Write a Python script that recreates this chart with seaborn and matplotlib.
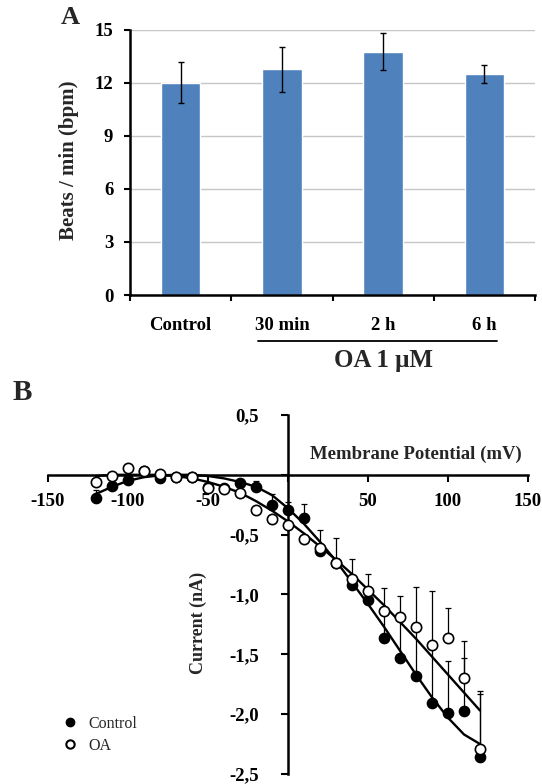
import numpy as np
import pandas as pd
import matplotlib
matplotlib.use("Agg")
import matplotlib.pyplot as plt
from matplotlib.lines import Line2D
import seaborn as sns

# ==========================================
# DATA
# ==========================================
# Panel A - beating rate
groups = ["Control", "30 min", "2 h", "6 h"]
beats = [12.0, 12.75, 13.75, 12.5]
beats_err = [1.15, 1.28, 1.05, 0.5]

# Panel B - I/V relationship
voltage = list(range(-120, 121, 10))
ctrl_current = [-0.19, -0.09, -0.04, 0.03, -0.025, -0.02, -0.02, -0.10, -0.11, -0.07,
                -0.10, -0.25, -0.29, -0.36, -0.64, -0.74, -0.92, -1.05, -1.36, -1.53,
                -1.68, -1.91, -1.99, -1.97, -2.36]
ctrl_err = [0.06, 0, 0, 0, 0, 0, 0, 0, 0, 0,
            0.05, 0.09, 0.06, 0.12, 0.18, 0.21, 0.22, 0.22, 0.41, 0.52,
            0.74, 0.94, 0.43, 0.44, 0.53]
oa_current = [-0.06, -0.01, 0.06, 0.03, 0.01, -0.02, -0.02, -0.11, -0.12, -0.15,
              -0.29, -0.37, -0.42, -0.54, -0.61, -0.74, -0.87, -0.97, -1.14, -1.19,
              -1.27, -1.42, -1.36, -1.70, -2.29]
oa_err = [0, 0, 0, 0, 0, 0, 0, 0, 0, 0,
          0, 0, 0, 0, 0, 0, 0, 0, 0, 0,
          0, 0, 0.25, 0.31, 0.48]
# fitted curves
ctrl_fit = [-0.16, -0.10, -0.05, -0.02, -0.005, 0.0, 0.0, -0.01, -0.03, -0.06,
            -0.10, -0.17, -0.28, -0.41, -0.56, -0.72, -0.90, -1.08, -1.27, -1.47,
            -1.67, -1.86, -2.03, -2.17, -2.25]
oa_fit = [-0.01, 0.0, 0.0, 0.0, 0.0, -0.01, -0.03, -0.06, -0.10, -0.15,
          -0.22, -0.30, -0.39, -0.49, -0.60, -0.71, -0.83, -0.96, -1.09, -1.23,
          -1.37, -1.52, -1.67, -1.82, -1.97]

# ==========================================
# STYLE
# ==========================================
sns.set_theme(style="white")
plt.rcParams["font.family"] = ["Liberation Serif", "DejaVu Serif"]
plt.rcParams["font.weight"] = "bold"
plt.rcParams["axes.labelweight"] = "bold"

fig = plt.figure(figsize=(5.42, 7.84), dpi=100)
ax1 = fig.add_axes([0.2399, 0.6237, 0.7472, 0.3386])
ax2 = fig.add_axes([0.0886, 0.0128, 0.8856, 0.4579])

# ------------------------------------------
# PANEL A
# ------------------------------------------
df_a = pd.DataFrame({"group": groups, "bpm": beats})
sns.barplot(data=df_a, x="group", y="bpm", color="#4f81bd", saturation=1,
            width=0.39, errorbar=None, ax=ax1, zorder=2)
ax1.errorbar(range(len(groups)), beats, yerr=beats_err, fmt="none",
             ecolor="black", elinewidth=1, capsize=2.2, capthick=1, zorder=3)
ax1.set_xlim(-0.5, 3.5)
ax1.set_ylim(0, 15)
ax1.set_yticks(range(0, 16, 3))
ax1.yaxis.grid(True, color="#c6c6c6", lw=1)
ax1.set_axisbelow(True)
ax1.spines[["top", "right"]].set_visible(False)
for s in ["left", "bottom"]:
    ax1.spines[s].set_linewidth(1.8)
    ax1.spines[s].set_color("black")
ax1.tick_params(axis="y", direction="out", left=True, length=4, width=1.5,
                pad=8, labelsize=13.5, colors="black")
ax1.tick_params(axis="x", which="major", length=0, pad=16, labelsize=13.5,
                colors="black")
ax1.set_xticks(np.arange(-0.5, 4, 1), minor=True)
ax1.tick_params(axis="x", which="minor", direction="out", bottom=True,
                length=4, width=1.5, color="black")
ax1.set_xlabel("")
ax1.set_ylabel("")
fig.text(69 / 542, 1 - 160 / 784, "Beats / min (bpm)", rotation=90,
         ha="center", va="center", fontsize=15)

xt = ax1.get_xaxis_transform()
ax1.plot([0.764, 3.125], [-0.172, -0.172], transform=xt, clip_on=False,
         color="black", lw=1.3)
ax1.text(2.0, -0.245, "OA 1 μM", transform=xt, ha="center", va="center",
         fontsize=18)
fig.text(70 / 542, 1 - 18 / 784, "A", ha="center", va="center", fontsize=19)

# ------------------------------------------
# PANEL B
# ------------------------------------------
v = np.array(voltage)
for cur, err in [(ctrl_current, ctrl_err), (oa_current, oa_err)]:
    cur = np.array(cur)
    err = np.array(err)
    m = err > 0
    ax2.errorbar(v[m], cur[m], yerr=[np.zeros(m.sum()), err[m]], fmt="none",
                 ecolor="black", elinewidth=0.9, capsize=2.5, capthick=0.9,
                 zorder=2)

sns.lineplot(x=voltage, y=ctrl_fit, color="black", lw=1.7, ax=ax2, zorder=3)
sns.lineplot(x=voltage, y=oa_fit, color="black", lw=1.7, ax=ax2, zorder=3)
sns.scatterplot(x=voltage, y=ctrl_current, color="black", edgecolor="black",
                s=55, linewidth=1, ax=ax2, zorder=4)
sns.scatterplot(x=voltage, y=oa_current, color="white", edgecolor="black",
                s=55, linewidth=1.2, ax=ax2, zorder=5)

ax2.set_xlim(-150, 150)
ax2.set_ylim(-2.5, 0.5)
ax2.spines[["top", "right"]].set_visible(False)
ax2.spines["left"].set_position(("data", 0))
ax2.spines["bottom"].set_position(("data", 0))
for s in ["left", "bottom"]:
    ax2.spines[s].set_linewidth(1.8)
    ax2.spines[s].set_color("black")
ax2.set_xticks([-150, -100, -50, 0, 50, 100, 150])
ax2.set_xticklabels(["-150", "-100", "-50", "", "50", "100", "150"])
ax2.set_yticks([-2.5, -2.0, -1.5, -1.0, -0.5, 0, 0.5])
ax2.set_yticklabels(["-2,5", "-2,0", "-1,5", "-1,0", "-0,5", "", "0,5"])
ax2.tick_params(axis="x", direction="out", bottom=True, length=5, width=1.5,
                pad=8, labelsize=13.5, colors="black")
ax2.tick_params(axis="y", direction="out", left=True, length=5, width=1.5,
                pad=16, labelsize=13.5, colors="black")
ax2.set_xlabel("")
ax2.set_ylabel("")
ax2.text(80, 0.167, "Membrane Potential (mV)", ha="center", va="center",
         fontsize=13.5)
ax2.text(-56, -1.235, "Current (nA)", rotation=90, ha="center", va="center",
         fontsize=13)

handles = [
    Line2D([], [], marker="o", ls="", color="black", markersize=6),
    Line2D([], [], marker="o", ls="", markerfacecolor="white",
           markeredgecolor="black", markeredgewidth=1.5, markersize=6),
]
fig.legend(handles, ["Control", "OA"], loc="center left",
           bbox_to_anchor=(54 / 542, 1 - 735 / 784), frameon=False,
           borderpad=0, handlelength=1.0, handletextpad=0.63,
           labelspacing=0.375,
           prop={"family": "Liberation Serif", "weight": "normal", "size": 11.5})
fig.text(22 / 542, 1 - 392 / 784, "B", ha="center", va="center", fontsize=21)

fig.savefig("out.png", dpi=100)
plt.close(fig)
